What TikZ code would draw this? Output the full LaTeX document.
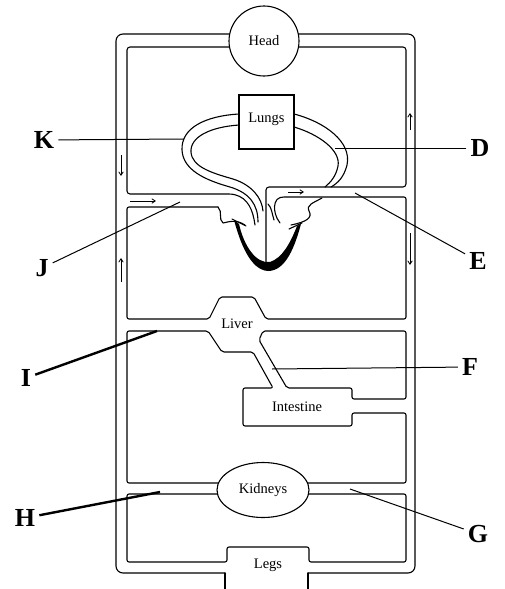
\documentclass[tikz,border=0pt]{standalone}
\usepackage{fontspec}
\setmainfont{Liberation Serif}
\usetikzlibrary{shapes.geometric,arrows.meta}
\tikzset{
    vessel/.style={line width=1.1pt,line cap=round,line join=round},
    organ/.style={draw,line width=1.1pt,fill=white,font=\fontsize{14.5}{16}\selectfont,inner sep=0pt},
    organtext/.style={font=\fontsize{14.5}{16}\selectfont,inner sep=0pt},
    letter/.style={font=\fontsize{26}{26}\selectfont\bfseries,inner sep=4pt},
    leader/.style={line width=1pt},
    thickleader/.style={line width=2.4pt},
    flow/.style={line width=0.8pt,-{Straight Barb[length=3.5pt,width=4.5pt]}},
  }

\begin{document}
\begin{tikzpicture}[x=1pt,y=-1pt]
  \useasboundingbox (0,0) rectangle (504,589);
  %OUTER CIRCUIT
  \draw[vessel,rounded corners=7] (264,34) -- (116,34) -- (116,573) -- (225,573);
  \draw[vessel] (225,573) -- (225,589);
  \draw[vessel,rounded corners=7] (264,34) -- (415,34) -- (415,573) -- (308,573);
  \draw[vessel] (308,573) -- (308,589);
  %INNER LOOPS
  %top: head, pulmonary artery, aorta, septum
  \draw[vessel,rounded corners=3] (255,225) .. controls (253,210) and (248,198) .. (232,194)
    -- (127,194) -- (127,47) -- (406,47) -- (406,187) -- (266,187) -- (266,268);
  %between aorta and liver
  \draw[vessel,rounded corners=2] (218,207) -- (127,207) -- (127,319) -- (209,319) -- (220,297)
    -- (254,297) -- (266,319) -- (406,319) -- (406,197) -- (282,197)
    .. controls (275,199) and (274,206) .. (275,212) .. controls (276,217) and (278,220) .. (280,223);
  %liver to kidneys, round the intestine
  \draw[vessel,rounded corners=2] (240,483) -- (127,483) -- (127,331) -- (208,331) -- (222,352)
    -- (253,352) -- (273,388) -- (243,388) -- (243,426) -- (352,426) -- (352,413)
    -- (406,413) -- (406,483) -- (290,483);
  %liver to intestine
  \draw[vessel,rounded corners=2] (263,331) -- (406,331) -- (406,399) -- (352,399) -- (352,388)
    -- (287,388) -- (259,340) -- cycle;
  %kidneys to legs
  \draw[vessel,rounded corners=2] (240,494) -- (127,494) -- (127,562) -- (227,562) -- (227,547)
    -- (309,547) -- (309,562) -- (406,562) -- (406,494) -- (290,494);
  %LUNG VESSELS
  \draw[vessel] (239,114) .. controls (205,116) and (181,128) .. (182,150)
    .. controls (183,170) and (205,180) .. (230,187) .. controls (250,193) and (258,205) .. (258,222);
  \draw[vessel] (239,125) .. controls (210,127) and (190,137) .. (191,152)
    .. controls (192,167) and (212,173) .. (233,179) .. controls (252,185) and (262,198) .. (263,211);
  \draw[vessel] (294,114) .. controls (325,122) and (352,142) .. (347,165)
    .. controls (344,177) and (338,183) .. (331,187);
  \draw[vessel] (294,127) .. controls (318,134) and (341,150) .. (338,166)
    .. controls (336,176) and (331,182) .. (325,187);
  %HEART
  \draw[vessel] (218,207) .. controls (223,212) and (218,219) .. (223,223)
    .. controls (228,222) and (236,219) .. (245,225);
  \draw[vessel] (322,198) .. controls (313,203) and (306,205) .. (309,211)
    .. controls (313,218) and (306,222) .. (291,225);
  \draw[vessel] (268,204) .. controls (272,208) and (272,214) .. (274,220);
  \fill (234,220) .. controls (240,242) and (250,270) .. (268,271)
    .. controls (286,271) and (295,246) .. (301,224) -- (297,226)
    .. controls (290,244) and (282,258) .. (270,262)
    .. controls (256,264) and (244,246) .. (239,224) -- cycle;
  \draw[vessel] (232,219) -- (246,226);
  \draw[vessel] (302,223) -- (289,229);
  %ORGANS
  \node[organ,circle,minimum size=70] (head) at (264,41) {Head};
  \node[organ,minimum width=55,minimum height=54,text depth=8pt] (lungs) at (266.5,122) {Lungs};
  \node[organ,ellipse,minimum width=92,minimum height=55] (kidneys) at (263,490) {Kidneys};
  \node[organtext] (liver) at (237,324) {Liver};
  \node[organtext] (intestine) at (297,407) {Intestine};
  \node[organtext] (legs) at (268,565) {Legs};
  %DIRECTION OF FLOW
  \draw[flow] (121,155) -- (121,176);
  \draw[flow] (121,282) -- (121,258);
  \draw[flow] (130,201) -- (156,201);
  \draw[flow] (288,192) -- (304,192);
  \draw[flow] (410,130) -- (410,113);
  \draw[flow] (410,233) -- (410,265);
  %LETTERS
  \coordinate (k-tip) at (184,139);
  \coordinate (d-tip) at (335,148);
  \coordinate (j-tip) at (180,202);
  \coordinate (e-tip) at (355,193);
  \coordinate (i-tip) at (157,331);
  \coordinate (f-tip) at (272,369);
  \coordinate (h-tip) at (160,492);
  \coordinate (g-tip) at (350,489);
  \node[letter] (K) at (44,140) {K};
  \node[letter] (D) at (480,148) {D};
  \node[letter] (J) at (42,268) {J};
  \node[letter] (E) at (478,261) {E};
  \node[letter] (I) at (26,378) {I};
  \node[letter] (F) at (470,367) {F};
  \node[letter] (H) at (25,518) {H};
  \node[letter] (G) at (478,534) {G};
  \draw[leader] (K) -- (k-tip);
  \draw[leader] (D) -- (d-tip);
  \draw[leader] (J) -- (j-tip);
  \draw[leader] (E) -- (e-tip);
  \draw[thickleader] (I) -- (i-tip);
  \draw[leader] (F) -- (f-tip);
  \draw[thickleader] (H) -- (h-tip);
  \draw[leader] (G) -- (g-tip);
\end{tikzpicture}
\end{document}
